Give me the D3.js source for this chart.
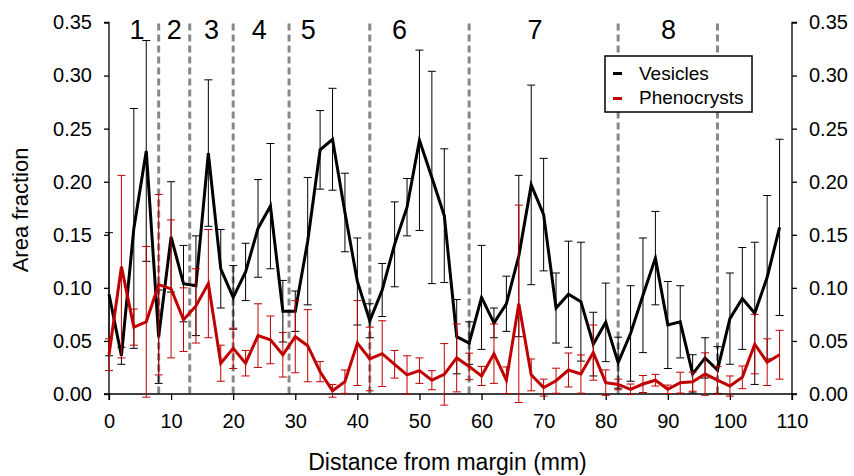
<!DOCTYPE html>
<html><head><meta charset="utf-8">
<script src="https://cdn.jsdelivr.net/npm/d3@7"></script>
<style>body{margin:0;background:#fff}svg{display:block}text{font-family:"Liberation Sans",Arial,sans-serif}</style>
</head><body>
<svg id="c" width="854" height="476"></svg>
<script>
const distance = [0,2,4,6,8,10,12,14,16,18,20,22,24,26,28,30,32,34,36,38,40,42,44,46,48,50,52,54,56,58,60,62,64,66,68,70,72,74,76,78,80,82,84,86,88,90,92,94,96,98,100,102,104,106,108];
const vesicles = [0.094,0.036,0.156,0.229,0.054,0.148,0.104,0.102,0.227,0.118,0.091,0.115,0.156,0.177,0.078,0.078,0.144,0.230,0.240,0.171,0.106,0.069,0.098,0.141,0.176,0.239,0.204,0.168,0.054,0.048,0.091,0.067,0.085,0.130,0.197,0.169,0.081,0.094,0.087,0.047,0.0675,0.0295,0.057,0.093,0.128,0.065,0.068,0.019,0.034,0.0226,0.071,0.090,0.076,0.110,0.157];
const vesiclesErr = [0.058,0.008,0.113,0.104,0.044,0.052,0.036,0.047,0.069,0.037,0.03,0.027,0.046,0.059,0.029,0.019,0.060,0.037,0.048,0.037,0.041,0.016,0.025,0.040,0.027,0.085,0.100,0.063,0.035,0.02,0.049,0.014,0.026,0.076,0.094,0.053,0.033,0.050,0.056,0.030,0.037,0.024,0.045,0.054,0.044,0.041,0.034,0.018,0.019,0.022,0.043,0.048,0.067,0.077,0.083];
const phenocrysts = [0.037,0.120,0.063,0.068,0.103,0.099,0.070,0.083,0.104,0.029,0.043,0.029,0.055,0.051,0.037,0.054,0.0455,0.021,0.003,0.0116,0.048,0.033,0.038,0.028,0.018,0.022,0.013,0.0185,0.034,0.026,0.017,0.038,0.013,0.085,0.018,0.006,0.0125,0.0226,0.0188,0.039,0.0107,0.009,0.0044,0.0094,0.013,0.0044,0.0107,0.0116,0.0188,0.013,0.0075,0.0157,0.047,0.030,0.037];
const phenocrystsErr = [0.015,0.086,0.017,0.071,0.085,0.065,0.030,0.035,0.051,0.017,0.019,0.012,0.030,0.0225,0.021,0.034,0.034,0.0095,0.006,0.011,0.040,0.030,0.031,0.013,0.018,0.012,0.009,0.029,0.032,0.0125,0.009,0.028,0.0125,0.093,0.015,0.008,0.0118,0.016,0.018,0.026,0.012,0.005,0.005,0.008,0.0055,0.004,0.0098,0.009,0.020,0.013,0.0095,0.0107,0.028,0.022,0.023];
const zoneBoundaries = [8,13,20,29,42,58,82,98];
const zoneLabels = ["1","2","3","4","5","6","7","8"];
const zoneLabelPos = [4.5,10.5,16.5,24.2,32.1,46.8,68.6,90.1];
const xTicks = [0,10,20,30,40,50,60,70,80,90,100,110];
const yTicks = [0,0.05,0.10,0.15,0.20,0.25,0.30,0.35];
const seriesNames = ["Vesicles","Phenocrysts"];
const seriesColors = ["#000000","#c00000"];

const svg = d3.select("#c");
const x = d3.scaleLinear().domain([0,110]).range([109,792]);
const y = d3.scaleLinear().domain([0,0.35]).range([394,22.5]);

// zone dividers
svg.append("g").selectAll("line").data(zoneBoundaries).join("line")
  .attr("x1",d=>x(d)).attr("x2",d=>x(d)).attr("y1",y(0.35)+1).attr("y2",y(0))
  .attr("stroke","#888").attr("stroke-width",3).attr("stroke-dasharray","7,4");

svg.append("g").selectAll("text").data(zoneLabels).join("text")
  .attr("x",(d,i)=>x(zoneLabelPos[i])).attr("y",39).attr("text-anchor","middle")
  .attr("font-size",27).attr("fill","#000").text(d=>d);

// axes
const fmt = d3.format(".2f");
const gL = svg.append("g").attr("transform","translate(109,0)")
  .call(d3.axisLeft(y).tickValues(yTicks).tickFormat(fmt).tickSize(5).tickPadding(12));
const gR = svg.append("g").attr("transform","translate(792,0)")
  .call(d3.axisRight(y).tickValues(yTicks).tickFormat(fmt).tickSize(5).tickPadding(12));
const gB = svg.append("g").attr("transform","translate(0,394)")
  .call(d3.axisBottom(x).tickValues(xTicks).tickFormat(d3.format("d")).tickSize(6).tickPadding(14));
[gL,gR,gB].forEach(g=>{
  g.select(".domain").attr("stroke","#000").attr("stroke-width",1.3);
  g.selectAll(".tick line").attr("stroke","#000").attr("stroke-width",1.3);
  g.selectAll("text").attr("font-size",20).attr("fill","#000").style("font-family","'Liberation Sans',Arial,sans-serif");
});
gL.select(".domain").attr("d","M-5,22.5H0V394H-5");
gR.select(".domain").attr("d","M5,22.5H0V394H5");
gB.select(".domain").attr("d","M109,6V0H792V6");

svg.append("text").attr("transform","translate(28,210) rotate(-90)").attr("text-anchor","middle")
  .attr("font-size",22).text("Area fraction");
svg.append("text").attr("x",447.5).attr("y",470).attr("text-anchor","middle")
  .attr("font-size",23).text("Distance from margin (mm)");

function drawSeries(vals, errs, color){
  const g = svg.append("g");
  const data = distance.map((d,i)=>({d, v:vals[i], e:errs[i]}));
  const eb = g.append("g").attr("stroke",color).attr("stroke-width",1).attr("fill","none");
  data.forEach(p=>{
    const cx = x(p.d), y1 = y(p.v+p.e), y2 = y(p.v-p.e);
    eb.append("path").attr("d",`M${cx},${y1}V${y2}M${cx-4},${y1}H${cx+4}M${cx-4},${y2}H${cx+4}`);
  });
  g.append("path").datum(data)
    .attr("d", d3.line().x(p=>x(p.d)).y(p=>y(p.v)))
    .attr("fill","none").attr("stroke",color).attr("stroke-width",3).attr("stroke-linejoin","miter");
}
drawSeries(vesicles, vesiclesErr, seriesColors[0]);
drawSeries(phenocrysts, phenocrystsErr, seriesColors[1]);

// legend
const lg = svg.append("g");
lg.append("rect").attr("x",605).attr("y",56).attr("width",147).attr("height",56)
  .attr("fill","#fff").attr("stroke","#000").attr("stroke-width",1.5);
seriesNames.forEach((n,i)=>{
  const yy = 73.5 + i*25;
  lg.append("line").attr("x1",613).attr("x2",622).attr("y1",yy).attr("y2",yy)
    .attr("stroke",seriesColors[i]).attr("stroke-width",3);
  lg.append("text").attr("x",639).attr("y",80 + i*24).attr("font-size",19).text(n);
});
</script>
</body></html>
